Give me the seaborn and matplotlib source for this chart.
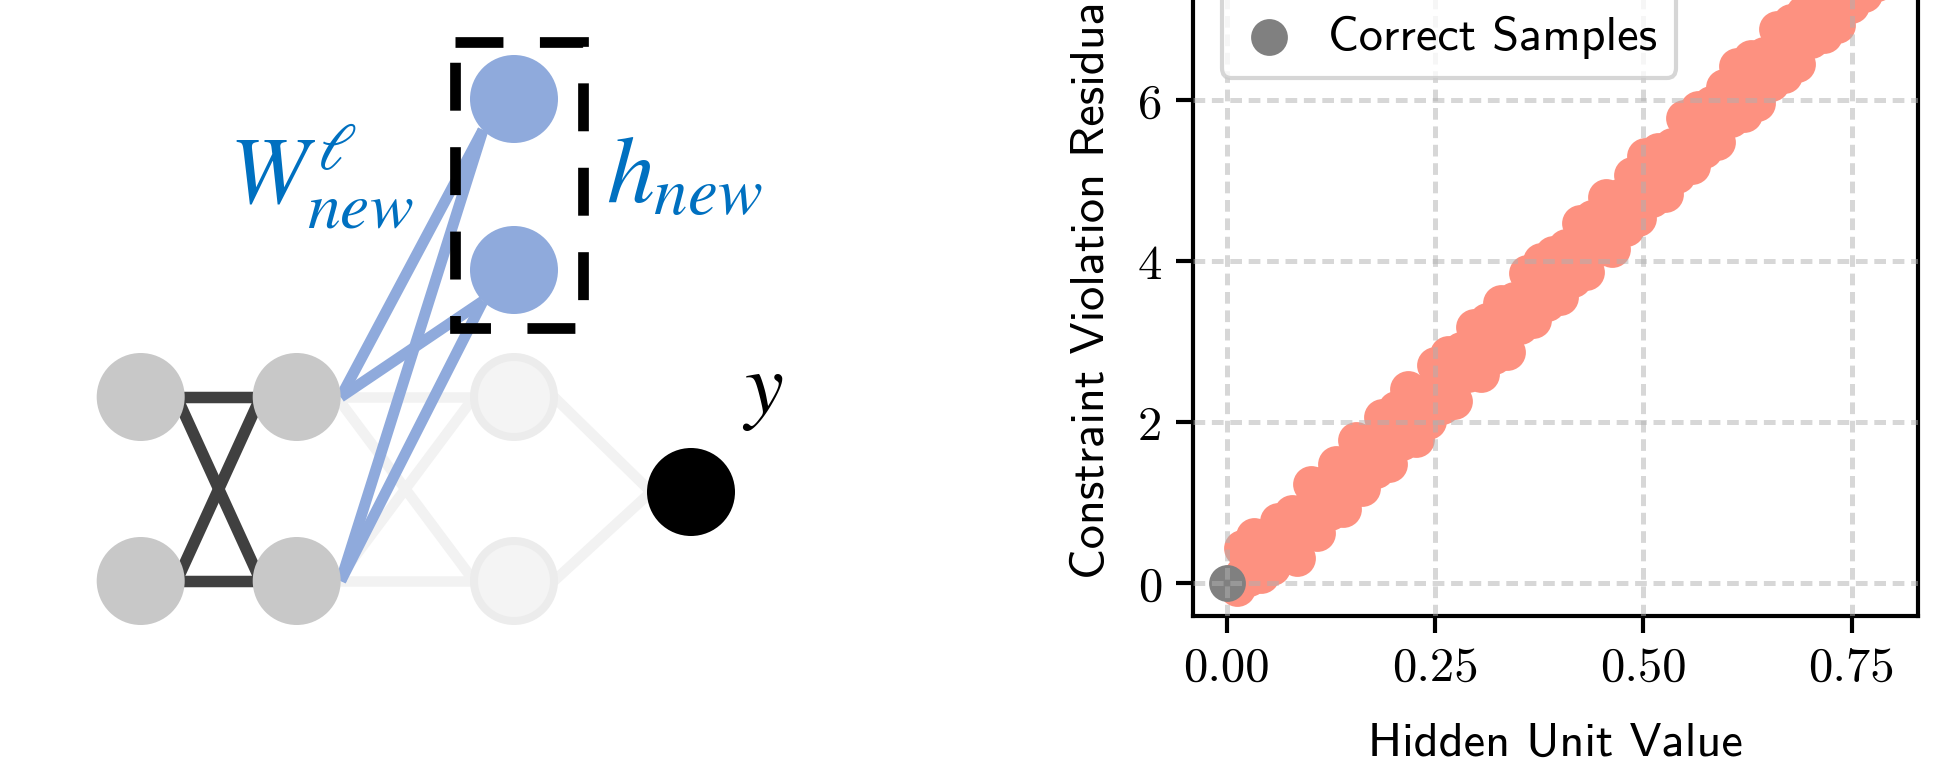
import numpy as np
import pandas as pd
import matplotlib
matplotlib.use("Agg")
import matplotlib.pyplot as plt
from matplotlib.patches import Circle, Rectangle
import seaborn as sns

# data (upper edge, lower edge and centre of the band)
x_incorrect = [0.004, 0.012, 0.018, 0.027, 0.033, 0.041, 0.046, 0.055, 0.062, 0.070,
               0.078, 0.085, 0.094, 0.101, 0.108, 0.117, 0.124, 0.131, 0.140, 0.148,
               0.155, 0.163, 0.171, 0.179, 0.186, 0.195, 0.203, 0.210, 0.218, 0.227,
               0.234, 0.242, 0.250, 0.258, 0.266, 0.273, 0.281, 0.290, 0.297, 0.305,
               0.313, 0.321, 0.329, 0.336, 0.345, 0.352, 0.360, 0.368, 0.377, 0.384,
               0.392, 0.400, 0.407, 0.416, 0.424, 0.431, 0.439, 0.447, 0.455, 0.463,
               0.471, 0.479, 0.486, 0.494, 0.502, 0.510, 0.518, 0.526, 0.534, 0.541,
               0.549, 0.558, 0.566, 0.573, 0.581, 0.589, 0.597, 0.605, 0.613, 0.621,
               0.629, 0.637, 0.645, 0.653, 0.661, 0.669, 0.677, 0.685, 0.693, 0.701,
               0.709, 0.717, 0.725, 0.733, 0.741, 0.749, 0.757, 0.765, 0.773, 0.781,
               0.789,
               0.020, 0.044, 0.066, 0.090, 0.113, 0.136, 0.159, 0.182, 0.205, 0.228,
               0.251, 0.274, 0.297, 0.320, 0.343, 0.366, 0.389, 0.412, 0.435, 0.458,
               0.481, 0.504, 0.527, 0.550, 0.573, 0.596, 0.619, 0.642, 0.665, 0.688,
               0.711, 0.734, 0.757, 0.780]
y_incorrect = [0.01, -0.05, 0.44, 0.07, 0.59, 0.10, 0.57, 0.20, 0.78, 0.40,
               0.87, 0.32, 0.90, 1.24, 0.63, 1.24, 0.89, 1.48, 0.92, 1.39,
               1.78, 1.18, 1.76, 1.41, 2.07, 1.48, 2.17, 1.76, 2.42, 1.80,
               2.36, 2.02, 2.72, 2.21, 2.85, 2.27, 2.90, 2.60, 3.19, 2.60,
               3.26, 2.82, 3.49, 2.87, 3.52, 3.20, 3.86, 3.27, 4.01, 3.49,
               4.09, 3.56, 4.18, 3.78, 4.48, 3.87, 4.54, 4.17, 4.80, 4.16,
               4.80, 4.42, 5.08, 4.54, 5.31, 4.77, 5.37, 4.84, 5.44, 5.08,
               5.78, 5.19, 5.89, 5.38, 5.95, 5.48, 6.17, 5.77, 6.43, 5.83,
               6.53, 5.97, 6.57, 6.22, 6.89, 6.32, 6.98, 6.45, 7.08, 6.75,
               7.38, 6.81, 7.44, 6.94, 7.63, 7.19, 7.83, 7.32, 7.90, 7.46,
               7.88,
               0.12, 0.30, 0.49, 0.74, 0.97, 1.20, 1.42, 1.68, 1.88, 2.12,
               2.38, 2.58, 2.85, 3.05, 3.30, 3.52, 3.76, 3.96, 4.22, 4.45,
               4.68, 4.90, 5.14, 5.40, 5.62, 5.85, 6.08, 6.34, 6.55, 6.80,
               7.02, 7.25, 7.50, 7.72]
x_correct = [0.0]
y_correct = [0.0]
labels = ["Incorrect", "Correct Samples"]
x_ticks = [0.0, 0.25, 0.50, 0.75]
y_ticks = [0, 2, 4, 6]

sns.set_theme(style="ticks", rc={
    "axes.edgecolor": "black", "axes.labelcolor": "black",
    "xtick.color": "black", "ytick.color": "black", "text.color": "black",
    "axes.linewidth": 1.0, "xtick.major.width": 1.0, "ytick.major.width": 1.0,
    "xtick.major.size": 4.0, "ytick.major.size": 4.0,
})
plt.rcParams["font.family"] = ["cmss10", "DejaVu Sans"]
plt.rcParams["font.size"] = 11.6
plt.rcParams["axes.unicode_minus"] = False

DPI = 300
fig = plt.figure(figsize=(1950 / DPI, 767 / DPI), dpi=DPI)
px = 72 / DPI  # one pixel in points

# ---- left: network sketch (pixel coordinates) ----
dg = fig.add_axes([0, 0, 1, 1], zorder=0)
dg.set_xlim(0, 1950)
dg.set_ylim(767, 0)
dg.axis("off")

R = 44
gray_nodes = [(140.7, 397), (296.7, 397), (140.7, 581), (296.7, 581)]
faded_nodes = [(514, 397), (514, 581)]
blue_nodes = [(514, 99), (514, 270)]
out_node = (691, 492)

light = "#f2f2f2"
for sy in (397, 581):
    for ty in (397, 581):
        dg.plot([296.7 + 40, 514 - 40], [sy, ty], color=light, lw=10.5 * px,
                solid_capstyle="butt", zorder=1)
    dg.plot([514 + 40, out_node[0] - 40], [sy, out_node[1]], color=light,
            lw=10.5 * px, solid_capstyle="butt", zorder=1)

for sy in (397, 581):
    for ty in (397, 581):
        dg.plot([140.7 + 36, 296.7 - 36], [sy, ty], color="#404040", lw=11.5 * px,
                solid_capstyle="butt", zorder=1)

for sy in (397, 581):
    for bx, by in blue_nodes:
        dg.plot([296.7 + R, bx - 31], [sy, by + 31], color="#8faadc", lw=11 * px,
                solid_capstyle="butt", zorder=2)

for cx, cy in gray_nodes:
    dg.add_patch(Circle((cx, cy), R, facecolor="#c8c8c8", edgecolor="none", zorder=3))
for cx, cy in faded_nodes:
    dg.add_patch(Circle((cx, cy), R - 4, facecolor="#f4f4f4", edgecolor="#ececec",
                        lw=8 * px, zorder=3))
for cx, cy in blue_nodes:
    dg.add_patch(Circle((cx, cy), R, facecolor="#8faadc", edgecolor="none", zorder=3))
dg.add_patch(Circle(out_node, R, facecolor="black", edgecolor="none", zorder=3))

dg.add_patch(Rectangle((455, 42), 128, 286, fill=False, edgecolor="black",
                       lw=10.7 * px, linestyle=(0, (4.48, 3.41)), zorder=4))

dg.text(229, 202, r"$W^{\ell}_{new}$", color="#0070C0", fontsize=22.5,
        math_fontfamily="stix", ha="left", va="baseline", zorder=5)
dg.text(606, 202, r"$h_{new}$", color="#0070C0", fontsize=23,
        math_fontfamily="stix", ha="left", va="baseline", zorder=5)
dg.text(742, 413, r"$y$", color="black", fontsize=21,
        math_fontfamily="stix", ha="left", va="baseline", zorder=5)

# ---- right: scatter (top of the panel runs past the figure edge) ----
ax = fig.add_axes([1193.3 / 1950, (767 - 615.7) / 767, 725 / 1950, 663.4 / 767], zorder=1)

df = pd.DataFrame({
    "value": x_incorrect + x_correct,
    "residual": y_incorrect + y_correct,
    "group": [labels[0]] * len(x_incorrect) + [labels[1]] * len(x_correct),
})
colors = {labels[0]: "#fd9180", labels[1]: "#808080"}
for name in labels:
    sub = df[df["group"] == name]
    sns.scatterplot(data=sub, x="value", y="residual", color=colors[name], s=78,
                    linewidth=0, label=name, ax=ax, zorder=2)

ax.set_xlim(-0.04, 0.83)
ax.set_ylim(-0.40, 7.84)
ax.set_xticks(x_ticks)
ax.set_yticks(y_ticks)
ax.tick_params(labelfontfamily="cmr10", labelsize=11.7)
ax.set_axisbelow(False)
ax.grid(True, linestyle=(0, (2.34, 1.34)), color="#b0b0b0", alpha=0.5, lw=1.2, zorder=3)
for sp in ax.spines.values():
    sp.set_visible(True)
    sp.set_color("black")
ax.set_xlabel("Hidden Unit Value", fontsize=11.6, labelpad=7.5)
ax.set_ylabel("Constraint Violation Residual", fontsize=11.6, labelpad=6)

leg = ax.legend(loc="lower left", bbox_to_anchor=(0.039, 0.8105), borderaxespad=0,
                handlelength=1.15, handletextpad=0.65, fontsize=11.6, frameon=True,
                fancybox=True, edgecolor="0.8", framealpha=0.8)
leg.get_frame().set_linewidth(1.0)

fig.savefig("out.png", dpi=DPI)
